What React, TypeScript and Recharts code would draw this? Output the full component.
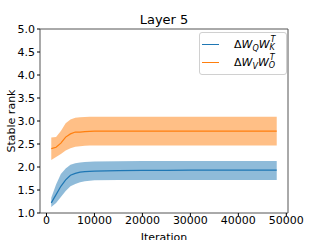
import React from 'react';
import {
  ComposedChart,
  Area,
  Line,
  XAxis,
  YAxis,
  ReferenceArea,
  Label,
} from 'recharts';

const iterations = [1000, 2000, 3000, 4000, 5000, 6000, 7000, 8000, 9000, 10000, 15000, 20000, 25000, 30000, 35000, 40000, 45000, 48000];

// blue: ΔW_Q W_K^T
const qkMean = [1.22, 1.40, 1.58, 1.72, 1.82, 1.86, 1.89, 1.90, 1.905, 1.91, 1.92, 1.925, 1.925, 1.93, 1.93, 1.93, 1.93, 1.93];
const qkLow = [1.13, 1.22, 1.35, 1.48, 1.58, 1.63, 1.67, 1.69, 1.70, 1.71, 1.715, 1.72, 1.72, 1.72, 1.72, 1.72, 1.72, 1.72];
const qkHigh = [1.33, 1.62, 1.85, 1.97, 2.05, 2.08, 2.10, 2.11, 2.115, 2.12, 2.125, 2.13, 2.13, 2.13, 2.13, 2.13, 2.13, 2.13];

// orange: ΔW_V W_O^T
const voMean = [2.40, 2.43, 2.52, 2.65, 2.72, 2.76, 2.76, 2.77, 2.775, 2.78, 2.78, 2.78, 2.78, 2.78, 2.78, 2.78, 2.78, 2.78];
const voLow = [2.15, 2.22, 2.28, 2.36, 2.41, 2.44, 2.45, 2.46, 2.465, 2.47, 2.47, 2.47, 2.47, 2.47, 2.47, 2.47, 2.47, 2.47];
const voHigh = [2.64, 2.65, 2.78, 2.95, 3.03, 3.07, 3.08, 3.085, 3.09, 3.09, 3.09, 3.09, 3.09, 3.09, 3.09, 3.09, 3.09, 3.09];

const xTicks = [0, 10000, 20000, 30000, 40000, 50000];
const yTicks = [1.0, 1.5, 2.0, 2.5, 3.0, 3.5, 4.0, 4.5, 5.0];
const xDomain: [number, number] = [-1350, 50350];
const yDomain: [number, number] = [1, 5];

const BLUE = '#1f77b4';
const ORANGE = '#ff7f0e';
const FONT = 'DejaVu Sans';

const data = iterations.map((it, i) => ({
  it,
  qk: qkMean[i],
  qkBand: [qkLow[i], qkHigh[i]],
  vo: voMean[i],
  voBand: [voLow[i], voHigh[i]],
}));

const legendItems = [
  { color: BLUE, w1: 'Q', w2: 'K', sup: 'T' },
  { color: ORANGE, w1: 'V', w2: 'O', sup: 'T' },
];

// ΔW_a W_b^T drawn with small offset spans
const MathName = ({ w1, w2, sup }: any) => (
  <span style={{ position: 'relative', display: 'inline-block', fontStyle: 'italic', fontSize: 11, lineHeight: '13px', whiteSpace: 'nowrap', height: 13 }}>
    <span style={{ fontStyle: 'normal' }}>Δ</span>
    <span>W</span>
    <span style={{ fontSize: 8, position: 'relative', top: 3 }}>{w1}</span>
    <span>W</span>
    <span style={{ position: 'relative', display: 'inline-block', width: 8, height: 13, verticalAlign: 'top', fontSize: 8, lineHeight: '8px' }}>
      <span style={{ position: 'absolute', left: 1, top: -2 }}>{sup}</span>
      <span style={{ position: 'absolute', left: 0, top: 6 }}>{w2}</span>
    </span>
  </span>
);

const LegendBox = () => (
  <div
    style={{
      position: 'absolute',
      left: 199,
      top: 32,
      width: 88,
      height: 43,
      boxSizing: 'border-box',
      border: '1px solid #d0d0d0',
      borderRadius: 3,
      background: 'rgba(255,255,255,0.8)',
      padding: '2px 0 0 2px',
      fontFamily: FONT,
      color: '#000',
    }}
  >
    {legendItems.map((item) => (
      <div key={item.w1} style={{ display: 'flex', alignItems: 'center', height: 18 }}>
        <div style={{ width: 17, height: 0, borderTop: `1.5px solid ${item.color}`, marginRight: 15 }} />
        <MathName {...item} />
      </div>
    ))}
  </div>
);

export default function App() {
  return (
    <div style={{ position: 'absolute', left: 0, top: 0, width: 320, height: 240, background: '#fff', fontFamily: FONT }}>
      <div style={{ position: 'absolute', top: 12, left: 0, width: 328, textAlign: 'center', fontSize: 13, color: '#000' }}>
        Layer 5
      </div>
      <ComposedChart width={320} height={240} data={data} margin={{ top: 29, right: 32, bottom: 0, left: 0 }}>
        <XAxis
          dataKey="it"
          type="number"
          domain={xDomain}
          ticks={xTicks}
          allowDataOverflow
          height={27}
          axisLine={false}
          tickLine={{ stroke: '#000' }}
          tickSize={3}
          tickMargin={0}
          tick={{ fill: '#000', fontSize: 11, fontFamily: FONT }}
        >
          <Label value="Iteration" position="insideBottom" offset={-1} style={{ fill: '#000', fontSize: 11, fontFamily: FONT }} />
        </XAxis>
        <YAxis
          type="number"
          domain={yDomain}
          ticks={yTicks}
          allowDataOverflow
          width={40}
          axisLine={false}
          tickLine={{ stroke: '#000' }}
          tickSize={3}
          tickMargin={2}
          tickFormatter={(v: number) => v.toFixed(1)}
          tick={{ fill: '#000', fontSize: 11, fontFamily: FONT }}
        >
          <Label
            content={({ viewBox }: any) => (
              <text
                x={11}
                y={viewBox.y + viewBox.height / 2}
                transform={`rotate(-90, 11, ${viewBox.y + viewBox.height / 2})`}
                textAnchor="middle"
                dominantBaseline="central"
                fontSize={11}
                fontFamily={FONT}
                fill="#000"
              >
                Stable rank
              </text>
            )}
          />
        </YAxis>
        <Area dataKey="qkBand" stroke="none" fill={BLUE} fillOpacity={0.5} legendType="none" isAnimationActive={false} type="linear" />
        <Area dataKey="voBand" stroke="none" fill={ORANGE} fillOpacity={0.5} legendType="none" isAnimationActive={false} type="linear" />
        <Line dataKey="qk" stroke={BLUE} strokeWidth={1.2} dot={false} isAnimationActive={false} type="linear" />
        <Line dataKey="vo" stroke={ORANGE} strokeWidth={1.2} dot={false} isAnimationActive={false} type="linear" />
        <ReferenceArea x1={xDomain[0]} x2={xDomain[1]} y1={yDomain[0]} y2={yDomain[1]} fill="none" stroke="#555" strokeWidth={1} />
      </ComposedChart>
      <LegendBox />
    </div>
  );
}
